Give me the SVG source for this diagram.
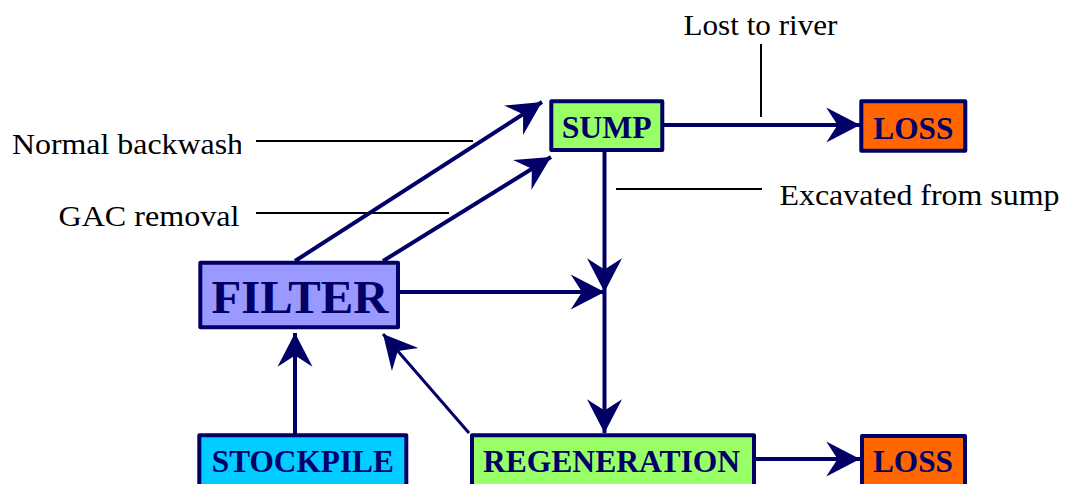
<svg xmlns="http://www.w3.org/2000/svg" width="1065" height="484" viewBox="0 0 1065 484">
<style>
.box{stroke:#000066;stroke-width:4;stroke-linejoin:round}
.lbl{font-family:"Liberation Serif","Times New Roman",serif;font-weight:bold;fill:#000066;text-anchor:middle}
.ann{font-family:"Liberation Serif","Times New Roman",serif;font-size:30px;fill:#000}
.con{stroke:#000066;stroke-width:4;fill:none;marker-end:url(#ah)}
.thin{stroke:#000;stroke-width:2}
</style>
<defs>
<marker id="ah" markerUnits="userSpaceOnUse" orient="auto" markerWidth="40" markerHeight="40" viewBox="-30 -16 32 32" refX="0" refY="0">
<path d="M0,0 L-27,-14 L-18,0 L-27,14 Z" fill="#000066"/>
</marker>
<clipPath id="lc"><rect x="0" y="100" width="241" height="140"/></clipPath>
</defs>
<rect width="1065" height="484" fill="#fff"/>
<g id="annotations">
<g clip-path="url(#lc)">
<text class="ann" x="12" y="154" textLength="231" lengthAdjust="spacingAndGlyphs">Normal backwash</text>
<text class="ann" x="58.5" y="226" textLength="181" lengthAdjust="spacingAndGlyphs">GAC removal</text>
</g>
<text class="ann" x="683.5" y="34.5" textLength="154" lengthAdjust="spacingAndGlyphs">Lost to river</text>
<text class="ann" x="779.5" y="204.5" textLength="280" lengthAdjust="spacingAndGlyphs">Excavated from sump</text>
<line class="thin" x1="256" y1="141" x2="473" y2="141"/>
<line class="thin" x1="256" y1="213" x2="449" y2="213"/>
<line class="thin" x1="761" y1="44" x2="761" y2="117"/>
<line class="thin" x1="616" y1="189" x2="762" y2="189"/>
</g>
<g id="connectors">
<line class="con" x1="295" y1="261" x2="542" y2="102"/>
<line class="con" x1="383" y1="261" x2="551" y2="157"/>
<line class="con" x1="663" y1="125" x2="860" y2="125"/>
<line class="con" x1="604.5" y1="152" x2="604.5" y2="292"/>
<line class="con" x1="400" y1="292" x2="604.5" y2="292"/>
<line class="con" x1="604.5" y1="292" x2="604.5" y2="433"/>
<line class="con" x1="295" y1="434" x2="295" y2="333"/>
<line class="con" style="stroke-width:3" x1="469" y1="433" x2="383" y2="334"/>
<line class="con" x1="756" y1="459" x2="860" y2="459"/>
</g>
<g id="sump">
<rect class="box" x="551.3" y="101.3" width="111" height="48.6" fill="#99FF66"/>
<text class="lbl" x="606.7" y="138.3" font-size="31" textLength="90" lengthAdjust="spacingAndGlyphs">SUMP</text>
</g>
<g id="loss-top">
<rect class="box" x="861.3" y="101.3" width="104" height="49.4" fill="#FF6600"/>
<text class="lbl" x="913.3" y="139" font-size="31" textLength="80" lengthAdjust="spacingAndGlyphs">LOSS</text>
</g>
<g id="filter">
<rect class="box" x="200.3" y="262.7" width="197.7" height="64.6" fill="#9999FF"/>
<text class="lbl" x="300" y="313.3" font-size="47" textLength="177" lengthAdjust="spacingAndGlyphs">FILTER</text>
</g>
<g id="stockpile">
<rect class="box" x="199.3" y="435.3" width="207" height="60" fill="#00CCFF"/>
<text class="lbl" x="302.8" y="472" font-size="31" textLength="182" lengthAdjust="spacingAndGlyphs">STOCKPILE</text>
</g>
<g id="regeneration">
<rect class="box" x="472" y="435.3" width="282" height="60" fill="#99FF66"/>
<text class="lbl" x="611.5" y="472" font-size="31" textLength="257" lengthAdjust="spacingAndGlyphs">REGENERATION</text>
</g>
<g id="loss-bottom">
<rect class="box" x="862" y="436" width="103" height="60" fill="#FF6600"/>
<text class="lbl" x="913" y="472" font-size="31" textLength="80" lengthAdjust="spacingAndGlyphs">LOSS</text>
</g>
</svg>
